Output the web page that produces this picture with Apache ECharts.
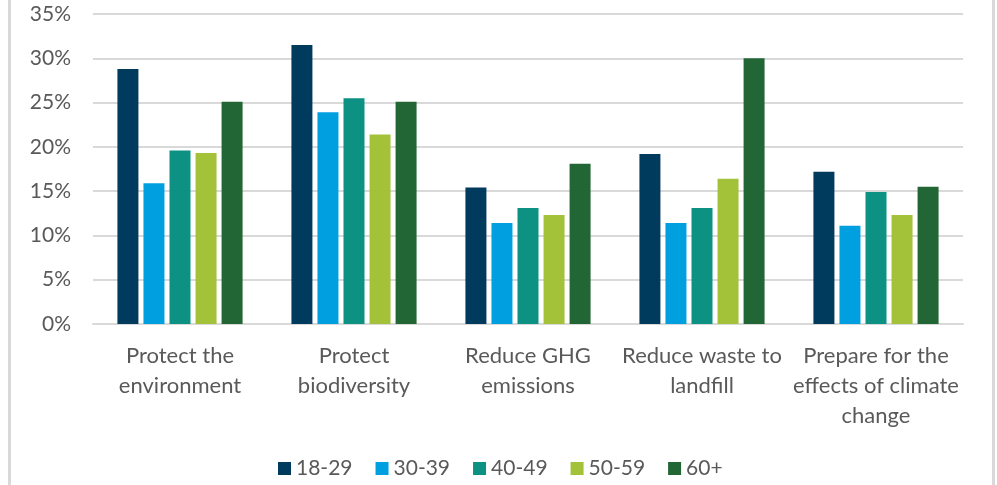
<!DOCTYPE html>
<html>
<head>
<meta charset="utf-8">
<script src="https://cdn.jsdelivr.net/npm/echarts@6/dist/echarts.min.js"></script>
<style>html,body{margin:0;padding:0;background:#fff}#c{width:997px;height:485px}</style>
</head>
<body>
<div id="c"></div>
<script>
const categories = ["Protect the\nenvironment", "Protect\nbiodiversity", "Reduce GHG\nemissions", "Reduce waste to\nlandfill", "Prepare for the\neffects of climate\nchange"];
const seriesNames = ["18-29", "30-39", "40-49", "50-59", "60+"];
const s1829 = [28.8, 31.5, 15.4, 19.2, 17.2];
const s3039 = [15.9, 23.9, 11.4, 11.4, 11.1];
const s4049 = [19.6, 25.5, 13.1, 13.1, 14.9];
const s5059 = [19.3, 21.4, 12.3, 16.4, 12.3];
const s60p  = [25.1, 25.1, 18.1, 30.0, 15.5];
const yTicks = [0, 5, 10, 15, 20, 25, 30, 35];

const colors = ["#003A5D", "#009FE0", "#0C9183", "#A3C139", "#236635"];
const dataSets = [s1829, s3039, s4049, s5059, s60p];
const FONT = "Lato";

const chart = echarts.init(document.getElementById('c'));
chart.setOption({
  animation: false,
  grid: { left: 93, right: 34, top: 14, bottom: 161 },
  legend: {
    data: seriesNames,
    top: 458,
    left: 278,
    padding: 0,
    icon: 'rect',
    itemWidth: 13,
    itemHeight: 13,
    itemGap: 23,
    textStyle: { color: '#595959', fontSize: 21, fontFamily: FONT }
  },
  xAxis: {
    type: 'category',
    data: categories,
    axisLine: { show: true, lineStyle: { color: '#D9D9D9', width: 2 } },
    axisTick: { show: false },
    axisLabel: { color: '#595959', fontSize: 22, fontFamily: FONT, lineHeight: 30, margin: 17, interval: 0 }
  },
  yAxis: {
    type: 'value',
    min: yTicks[0],
    max: yTicks[yTicks.length - 1],
    interval: 5,
    axisLine: { show: false },
    axisTick: { show: false },
    splitLine: { lineStyle: { color: '#D9D9D9', width: 2 } },
    axisLabel: { color: '#595959', fontSize: 21, fontFamily: FONT, margin: 22, formatter: '{value}%' }
  },
  graphic: [
    { type: 'rect', shape: { x: 8, y: 0, width: 3, height: 485 }, style: { fill: '#D9D9D9' }, silent: true },
    { type: 'rect', shape: { x: 992, y: 0, width: 3, height: 485 }, style: { fill: '#D9D9D9' }, silent: true }
  ],
  series: seriesNames.map((n, i) => ({
    name: n,
    type: 'bar',
    data: dataSets[i],
    barWidth: 21,
    barGap: '24%',
    itemStyle: { color: colors[i] }
  }))
});
</script>
</body>
</html>
